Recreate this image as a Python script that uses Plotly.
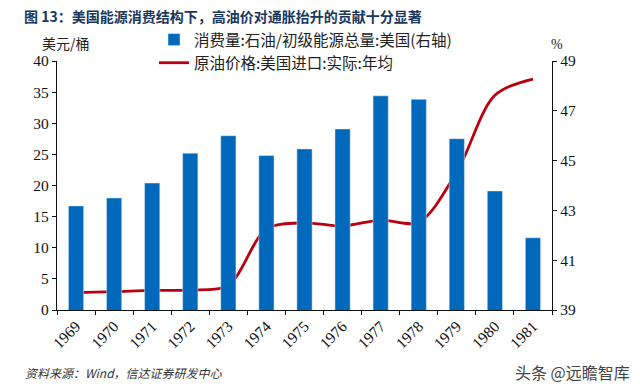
import plotly.graph_objects as go

years = ["1969","1970","1971","1972","1973","1974","1975","1976","1977","1978","1979","1980","1981"]
price = [2.8, 2.95, 3.15, 3.2, 4.0, 13.0, 14.0, 13.5, 14.45, 14.1, 22.2, 34.5, 37.1]
share = [43.18, 43.5, 44.1, 45.3, 46.0, 45.2, 45.47, 46.27, 47.6, 47.46, 45.88, 43.78, 41.9]
CN = "Noto Sans CJK SC"
SERIF = "Liberation Serif"
W, H = 640, 390
title = "图 13：美国能源消费结构下，高油价对通胀抬升的贡献十分显著"
fig = go.Figure()
fig.add_trace(go.Bar(x=years, y=share, yaxis="y2", name="消费量:石油/初级能源总量:美国(右轴)", marker_color="#0069BC", width=0.4))
fig.add_trace(go.Scatter(x=years, y=price, mode="lines", name="原油价格:美国进口:实际:年均", line=dict(color="#B8000F", width=2.8, shape="spline", smoothing=0.9)))
axis = dict(showline=True, linecolor="#111", linewidth=1.3, ticks="outside", ticklen=4, tickcolor="#111", showgrid=False, zeroline=False, automargin=False)
fig.update_layout(width=W, height=H, margin=dict(l=0,r=0,t=0,b=0), paper_bgcolor="white", plot_bgcolor="white", font=dict(family=CN, size=14, color="#111"),
    title=dict(text="<b>"+title+"</b>", x=24/W, y=1-12/H, xanchor="left", yanchor="top", font=dict(size=14, family=CN, color="#17375E")),
    legend=dict(x=154/W, y=1-23/H, xanchor="left", yanchor="top", bgcolor="rgba(0,0,0,0)", font=dict(size=15.5, family=CN, color="#222"), itemwidth=30),
    xaxis=dict(type="category", domain=[57/W, 552/W], tickson="boundaries", tickangle=-45, tickfont=dict(family=SERIF, size=15.5), **axis),
    yaxis=dict(domain=[80/H, 329/H], range=[0,40], dtick=5, tickfont=dict(family=SERIF, size=15.5), **axis),
    yaxis2=dict(domain=[80/H, 329/H], range=[39,49], tickvals=[39,41,43,45,47,49], overlaying="y", side="right", tickfont=dict(family=SERIF, size=15.5), **axis),
    showlegend=True,
    annotations=[
      dict(text="美元/桶", xref="paper", yref="paper", x=40/W, y=1-31/H, xanchor="left", yanchor="top", showarrow=False, font=dict(size=14, color="#222")),
      dict(text="%", xref="paper", yref="paper", x=549/W, y=1-35/H, xanchor="left", yanchor="top", showarrow=False, font=dict(size=14, family=SERIF, color="#222")),
      dict(text="<i>资料来源：Wind，信达证券研发中心</i>", xref="paper", yref="paper", x=23/W, y=1-362/H, xanchor="left", yanchor="top", showarrow=False, font=dict(size=12, color="#333")),
      dict(text="头条 @远瞻智库", xref="paper", yref="paper", x=632/W, y=1-358/H, xanchor="right", yanchor="top", showarrow=False, font=dict(size=16, color="#444")),
    ])
fig.write_html("out.html", post_script="document.body.style.margin='0';", config=dict(displayModeBar=False))
